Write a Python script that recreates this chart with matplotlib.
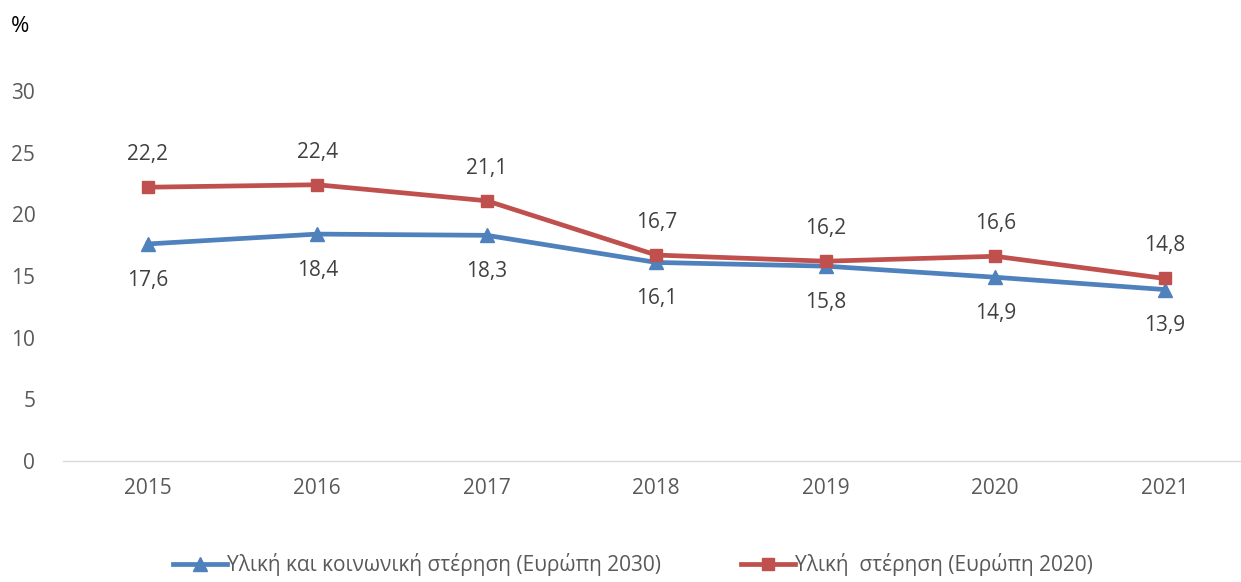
import matplotlib.pyplot as plt

plt.rcParams['font.family'] = ['Open Sans', 'DejaVu Sans']

years = ["2015", "2016", "2017", "2018", "2019", "2020", "2021"]
deprivation_2030 = [17.6, 18.4, 18.3, 16.1, 15.8, 14.9, 13.9]
deprivation_2020 = [22.2, 22.4, 21.1, 16.7, 16.2, 16.6, 14.8]
label_2030 = "Υλική και κοινωνική στέρηση (Ευρώπη 2030)"
label_2020 = "Υλική  στέρηση (Ευρώπη 2020)"

blue = "#4F81BD"
red = "#C0504D"
grey = "#595959"

fig = plt.figure(figsize=(12.41, 5.82), dpi=100)
ax = fig.add_axes([0.0508, 0.2079, 0.9492, 0.6357])

x = range(len(years))
ax.plot(x, deprivation_2030, color=blue, lw=3.4, marker="^", ms=10,
        label=label_2030, clip_on=False, zorder=3)
ax.plot(x, deprivation_2020, color=red, lw=3.4, marker="s", ms=9,
        label=label_2020, clip_on=False, zorder=3)

# data labels: blue below, red above
for i, v in enumerate(deprivation_2030):
    ax.annotate(f"{v:.1f}".replace(".", ","), (i, v), xytext=(0, -26),
                textcoords="offset points", ha="center", va="center",
                fontsize=15, color="#404040")
for i, v in enumerate(deprivation_2020):
    ax.annotate(f"{v:.1f}".replace(".", ","), (i, v), xytext=(0, 23.5),
                textcoords="offset points", ha="center", va="center",
                fontsize=15, color="#404040")

ax.set_xlim(-0.5, 6.45)
ax.set_ylim(0, 30)
ax.set_xticks(list(x))
ax.set_xticklabels(years)
ax.set_yticks(range(0, 31, 5))
ax.tick_params(axis="both", length=0, labelsize=15, labelcolor=grey)
ax.tick_params(axis="x", pad=12)
ax.tick_params(axis="y", pad=20)
for side in ("top", "right", "left"):
    ax.spines[side].set_visible(False)
ax.spines["bottom"].set_color("#D9D9D9")
ax.spines["bottom"].set_linewidth(1)

fig.text(0.009, 0.955, "%", fontsize=16, color="black", ha="left", va="center")

fig.legend(loc="center", bbox_to_anchor=(0.51, 0.03), ncol=2, frameon=False,
           fontsize=15, labelcolor=grey, handlelength=2.6, columnspacing=3.8,
           handletextpad=0.0)

fig.savefig("out.png", dpi=100)
